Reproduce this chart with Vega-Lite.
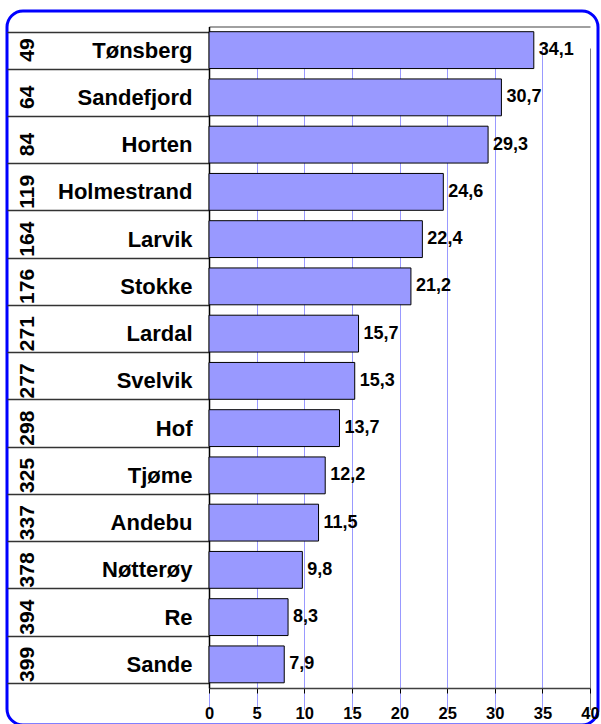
{
  "$schema": "https://vega.github.io/schema/vega-lite/v6.json",
  "width": 591,
  "height": 714,
  "autosize": {"type": "none"},
  "padding": {"left": 7, "top": 11, "right": 3, "bottom": 0},
  "background": "white",
  "config": {
    "font": "Liberation Sans",
    "view": {"stroke": "#0000ff", "strokeWidth": 3, "cornerRadius": 16, "fill": "white"},
    "locale": {"number": {"decimal": ",", "thousands": " ", "grouping": [3], "currency": ["", " kr"]}}
  },
  "data": {
    "values": [
      {"name": "Tønsberg", "rank": 49, "value": 34.1},
      {"name": "Sandefjord", "rank": 64, "value": 30.7},
      {"name": "Horten", "rank": 84, "value": 29.3},
      {"name": "Holmestrand", "rank": 119, "value": 24.6},
      {"name": "Larvik", "rank": 164, "value": 22.4},
      {"name": "Stokke", "rank": 176, "value": 21.2},
      {"name": "Lardal", "rank": 271, "value": 15.7},
      {"name": "Svelvik", "rank": 277, "value": 15.3},
      {"name": "Hof", "rank": 298, "value": 13.7},
      {"name": "Tjøme", "rank": 325, "value": 12.2},
      {"name": "Andebu", "rank": 337, "value": 11.5},
      {"name": "Nøtterøy", "rank": 378, "value": 9.8},
      {"name": "Re", "rank": 394, "value": 8.3},
      {"name": "Sande", "rank": 399, "value": 7.9}
    ]
  },
  "encoding": {
    "y": {
      "field": "name", "type": "nominal", "sort": null,
      "scale": {"range": [15.5, 677], "paddingInner": 0.22, "paddingOuter": 0.11},
      "axis": {
        "title": null, "orient": "left", "offset": -202,
        "domainColor": "#000000", "domainWidth": 1.5,
        "tickBand": "extent", "tickSize": 202, "tickColor": "#333333", "tickWidth": 1.5,
        "labelPadding": -185, "labelAlign": "right", "labelBaseline": "middle",
        "labelFont": "Liberation Sans", "labelFontSize": 22, "labelFontWeight": "bold", "labelColor": "#000000",
        "grid": false
      }
    }
  },
  "resolve": {"axis": {"x": "independent"}},
  "layer": [
    {
      "mark": {"type": "bar", "fill": "#9999ff", "stroke": "#000000", "strokeWidth": 1},
      "encoding": {
        "x": {
          "field": "value", "type": "quantitative",
          "scale": {"domain": [0, 40], "range": [202, 583], "nice": false, "zero": true},
          "axis": {
            "title": null, "orient": "bottom", "offset": -37,
            "values": [0, 5, 10, 15, 20, 25, 30, 35, 40],
            "domainColor": "#404040", "domainWidth": 1.5,
            "tickColor": "#000000", "tickSize": 5, "tickWidth": 1,
            "labelPadding": 12, "labelFont": "Liberation Sans", "labelFontSize": 16.5, "labelFontWeight": "bold", "labelColor": "#000000",
            "labelFlush": false, "labelOverlap": false,
            "grid": true,
            "gridColor": {"condition": {"test": "datum.value == 40", "value": "#808080"}, "value": "#9999ff"},
            "gridWidth": 1
          }
        }
      }
    },
    {
      "mark": {"type": "text", "align": "left", "baseline": "middle", "dx": 5, "font": "Liberation Sans", "fontSize": 18, "fontWeight": "bold", "color": "#000000"},
      "encoding": {
        "x": {
          "field": "value", "type": "quantitative",
          "axis": {"orient": "top", "offset": -15.5, "title": null, "labels": false, "ticks": false, "grid": false, "domainColor": "#808080", "domainWidth": 1.5}
        },
        "text": {"field": "value", "type": "quantitative", "format": ".1f"}
      }
    },
    {
      "mark": {"type": "text", "align": "center", "baseline": "middle", "angle": 270, "font": "Liberation Sans", "fontSize": 21, "fontWeight": "bold", "color": "#000000"},
      "encoding": {
        "x": {"datum": -19.0, "type": "quantitative", "axis": null},
        "text": {"field": "rank", "type": "quantitative"}
      }
    }
  ]
}
